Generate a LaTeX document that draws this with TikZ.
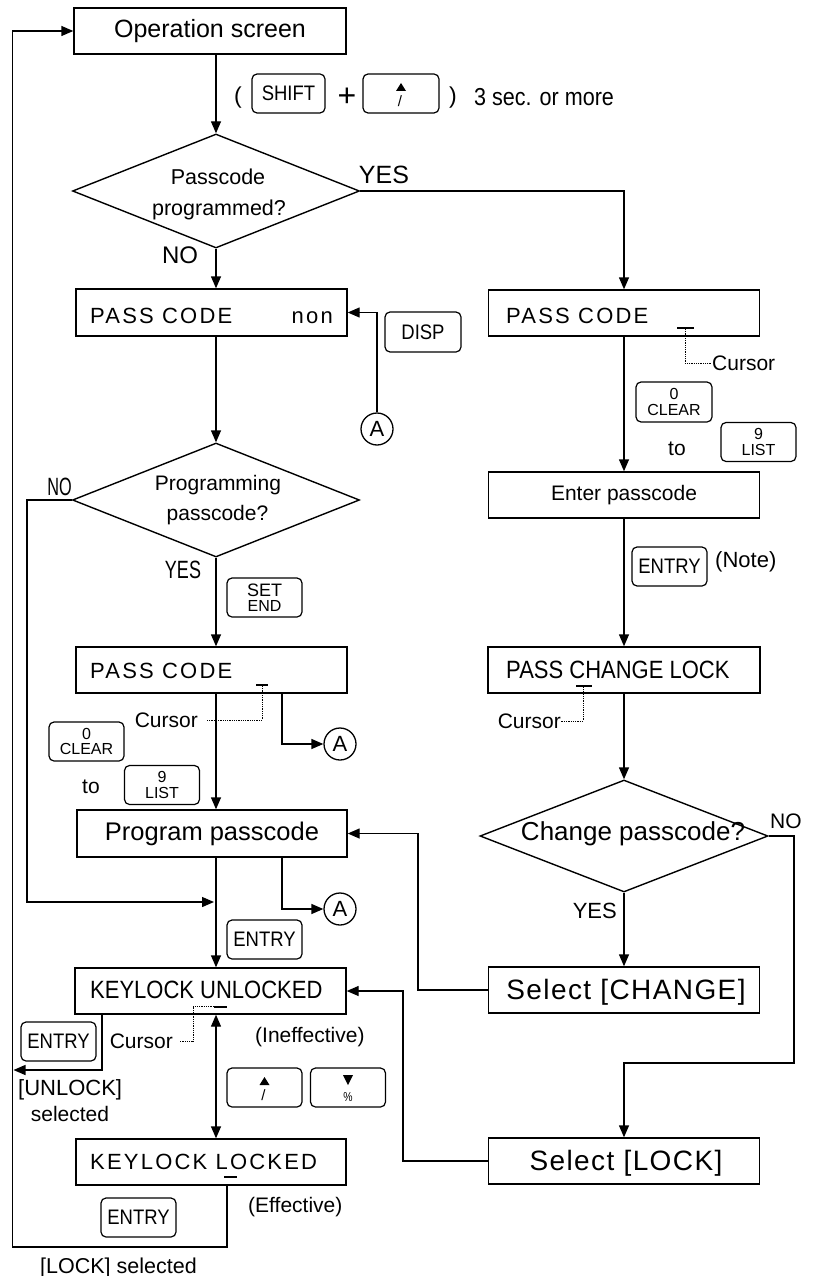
\documentclass[tikz,border=0pt]{standalone}
\usepackage{graphicx}
\usepackage{fontspec}
\setmainfont{Liberation Sans}
\newfontfamily\spacedfont[LetterSpace=10]{Liberation Sans}
\newfontfamily\selfont[LetterSpace=5]{Liberation Sans}
\newfontfamily\narrowfont[FakeStretch=0.88]{Liberation Sans}
\usetikzlibrary{arrows.meta,shapes.geometric,calc}
\newcommand\myfs[1]{\fontsize{#1}{#1}\selectfont}
\tikzset{
  box/.style={draw, line width=1.4pt, minimum width=271pt, minimum height=46pt, inner sep=0pt},
  dia/.style={draw, diamond, line width=1.4pt, inner sep=0pt},
  keybox/.style={draw, line width=1.2pt, rounded corners=5pt, minimum width=75pt, minimum height=39pt, inner sep=0pt, font=\narrowfont\myfs{21}},
  key2/.style={keybox, align=center, font=\fontsize{16}{15.5}\selectfont},
  arr/.style={line width=1.4pt, -{Triangle[length=12pt,width=10pt]}},
  darr/.style={line width=1.4pt, {Triangle[length=12pt,width=10pt]}-{Triangle[length=12pt,width=10pt]}},
  dots/.style={densely dotted, line width=0.8pt},
  curbar/.style={line width=2.5pt},
  txt/.style={inner sep=0pt, font=\myfs{21}},
  spc/.style={inner sep=0pt, font=\spacedfont\myfs{22}},
  cond/.style={inner sep=0pt, font=\narrowfont\myfs{25}},
  conn/.style={circle, draw, line width=1.3pt, minimum size=32pt, inner sep=0pt, font=\myfs{22}}
}
\begin{document}
\begin{tikzpicture}[x=1pt,y=-1pt]
\useasboundingbox (0,0) rectangle (815,1276);
\coordinate (col) at (216,0);
% ---------- boxes ----------
\node[box, minimum width=272pt] (op) at (210,31) {\myfs{25}Operation screen};
\node[box, minimum height=47pt] (pcnon) at (211.5,312.5) {};
\node[box] (pcR) at (624,313) {};
\node[box] (enter) at (624,495) {\myfs{21}Enter passcode};
\node[box, minimum width=272pt] (pcl) at (624,670) {};
\node[box] (pccur) at (211.5,670) {};
\node[box, minimum width=270pt, minimum height=47pt] (prog) at (212,833.5) {\myfs{25.5}Program passcode};
\node[box] (unl) at (210.5,991) {};
\node[box, minimum width=270pt] (lck) at (211,1162) {};
\node[box] (selC) at (624,990) {};
\node[box] (selL) at (624,1161) {};
% ---------- diamonds ----------
\node[dia, minimum width=287pt, minimum height=114pt] (d1) at (216,191) {};
\node[dia, minimum width=287pt, minimum height=114pt] (d2) at (216,500) {};
\node[dia, minimum width=288pt, minimum height=112pt] (d3) at (624,836) {};
% ---------- texts ----------
\node[txt, anchor=base] (t1a) at (218,185) {\myfs{21.5}Passcode};
\node[txt, anchor=base] (t1b) at (219,215) {\myfs{21.5}programmed?};
\node[txt, anchor=base] (y1) at (384,184) {\myfs{25}YES};
\node[txt, anchor=base] (n1) at (180,263) {\myfs{24}NO};
\node[spc, anchor=base west] (pc1) at (90,323) {PASS CODE};
\node[spc, anchor=base east] (non) at (333,323) {non};
\node[spc, anchor=base west] (pc2) at (506,323) {PASS CODE};
\node[spc, anchor=base west] (pc3) at (90,678) {PASS CODE};
\node[cond, anchor=base west] (pcltxt) at (506,678) {PASS CHANGE LOCK};
\node[txt, anchor=base] (t2a) at (218,490) {Programming};
\node[txt, anchor=base] (t2b) at (217.5,520) {passcode?};
\node[txt, anchor=base] (n2) at (59.5,495) {\myfs{25}\scalebox{0.65}[1]{NO}};
\node[txt, anchor=base] (y2) at (183,578) {\myfs{25}\scalebox{0.72}[1]{YES}};
\node[txt, anchor=base] (t3) at (633,840) {\myfs{26}Change passcode?};
\node[txt, anchor=base west] (n3) at (770,828) {\myfs{21}NO};
\node[txt, anchor=base east] (y3) at (617,918) {\myfs{22}YES};
\node[txt, anchor=base] (selCt) at (626,999) {\selfont\myfs{28}Select [CHANGE]};
\node[txt, anchor=base] (selLt) at (626,1170) {\selfont\myfs{28}Select [LOCK]};
\node[cond, anchor=base west] (unlt) at (90,998) {KEYLOCK UNLOCKED};
\node[spc, anchor=base west] (lckt) at (90,1169) {KEYLOCK LOCKED};
\node[txt, anchor=base west] (inef) at (255,1042) {(Ineffective)};
\node[txt, anchor=base west] (eff) at (248,1212) {(Effective)};
\node[txt, anchor=base west] (unsel) at (18,1095) {\myfs{22}[UNLOCK]};
\node[txt, anchor=base] (unsel2) at (70,1121) {selected};
\node[txt, anchor=base west] (lsel) at (40,1273) {\myfs{21.5}[LOCK] selected};
\node[txt, anchor=base west] (note) at (715,567) {\myfs{22}(Note)};
\node[txt, anchor=base west] (to1) at (668,455) {to};
\node[txt, anchor=base] (to2) at (91,793) {to};
\node[txt, anchor=base west] (sec) at (474,106) {\narrowfont\myfs{24.5}3 sec. or more};
\node[txt] (lp) at (238,98) {\myfs{23}(};
\node[txt] (rp) at (453,98) {\myfs{23})};
\node[txt] (plus) at (347,97) {\myfs{32}+};
% ---------- keys ----------
\node[keybox, minimum width=73pt] (shift) at (288.5,93.5) {SHIFT};
\node[keybox, minimum width=76pt] (upk1) at (401,93.5) {};
\node[keybox, minimum width=76pt, minimum height=40pt] (disp) at (423,332) {DISP};
\node[key2, minimum width=76pt, minimum height=40pt] (clrR) at (674,402) {0\\CLEAR};
\node[key2] (lstR) at (758.5,442) {9\\LIST};
\node[keybox] (entR) at (669.5,566.5) {ENTRY};
\node[key2] (setend) at (264.5,597.5) {\fontsize{18}{16}\selectfont SET\\END};
\node[key2] (clrL) at (86.5,741.5) {0\\CLEAR};
\node[key2] (lstL) at (162,785) {9\\LIST};
\node[keybox] (entL1) at (264.5,939.5) {ENTRY};
\node[keybox] (entL2) at (58.5,1041.5) {ENTRY};
\node[keybox] (upk2) at (264.5,1087.5) {};
\node[keybox] (dnk) at (348,1087.5) {};
\node[keybox] (entL3) at (138.5,1217.5) {ENTRY};
\foreach \k in {upk1,upk2}{
  \fill ($(\k.center)+(0,-10.5)$) -- ($(\k.center)+(5,-2.5)$) -- ($(\k.center)+(-5,-2.5)$) -- cycle;
  \node[inner sep=0pt, font=\myfs{15}] at ($(\k.center)+(-1,8)$) {/};
}
\fill ($(dnk.center)+(0,-2.5)$) -- ($(dnk.center)+(5,-12.5)$) -- ($(dnk.center)+(-5,-12.5)$) -- cycle;
\node[inner sep=0pt, font=\myfs{13}] (pct) at ($(dnk.center)+(0,10)$) {\scalebox{0.8}[1]{\%}};
% ---------- connectors ----------
\node[conn] (A1) at (377,429) {A};
\node[conn] (A2) at (340,744) {A};
\node[conn] (A3) at (340,909) {A};
\coordinate (br) at (282,0);
\coordinate (cr) at (418,0);
\coordinate (lr) at (403,0);
\coordinate (nr) at (794,1063);
\coordinate (nl) at (27,902);
\coordinate (jn) at (214,902);
\coordinate (u1) at (102,1070);
\coordinate (u2) at (13.5,1070);
\coordinate (l1) at (227,1247);
\coordinate (l2) at (12.7,1247);
\draw[arr] (op.south -| col) -- (d1.north);
\draw[arr] (d1.south) -- (pcnon.north -| col);
\draw[arr] (d1.east) -| (pcR.north);
\draw[arr] (pcR.south) -- (enter.north);
\draw[arr] (enter.south) -- (pcl.north);
\draw[arr] (pcl.south) -- (d3.north);
\draw[arr] (d3.south) -- (selC.north -| d3.south);
\draw[arr] (d3.east) -| (nr) -| (selL.north);
\draw[arr] (selC.west) -- (selC.west -| cr) |- (prog.east);
\draw[arr] (selL.west) -- (selL.west -| lr) |- (unl.east);
\draw[arr] (pcnon.south -| col) -- (d2.north);
\draw[arr] (d2.south) -- (pccur.north -| col);
\draw[arr] (d2.west) -| (nl) -- (jn);
\draw[arr] (pccur.south -| col) -- (prog.north -| col);
\draw[arr] (pccur.south -| br) |- (A2.west);
\draw[arr] (prog.south -| col) -- (unl.north -| col);
\draw[arr] (prog.south -| br) |- (A3.west);
\draw[arr] (A1.north) |- (pcnon.east);
\draw[darr] (unl.south -| col) -- (lck.north -| col);
\draw[arr] (unl.south -| u1) -- (u1) -- (u2);
\draw[arr] (lck.south -| l1) -- (l1) -- (l2) |- (op.west);
% ---------- cursors ----------
\draw[curbar] (677,328) -- (694,328);
\coordinate (c1) at (685,329);
\node[txt, anchor=west] (cur1) at (712,363) {Cursor};
\draw[dots] (c1) |- (cur1.west);
\draw[curbar] (576,686) -- (592,686);
\coordinate (c2) at (583,687);
\node[txt, anchor=east] (cur2) at (561,721) {Cursor};
\draw[dots] (c2) |- (cur2.east);
\draw[curbar] (256,685) -- (268,685);
\coordinate (c3) at (262,686);
\node[txt, anchor=east] (cur3) at (198,720) {Cursor};
\draw[dots] (c3) |- ($(cur3.east)+(9,0)$);
\draw[curbar] (214,1007) -- (227,1007);
\coordinate (c4) at (214,1006);
\node[txt, anchor=east] (cur4) at (173,1041) {Cursor};
\draw[dots] (c4) -- (193,1006) |- ($(cur4.east)+(7,0)$);
\draw[curbar] (224,1177) -- (237,1177);
\end{tikzpicture}
\end{document}
